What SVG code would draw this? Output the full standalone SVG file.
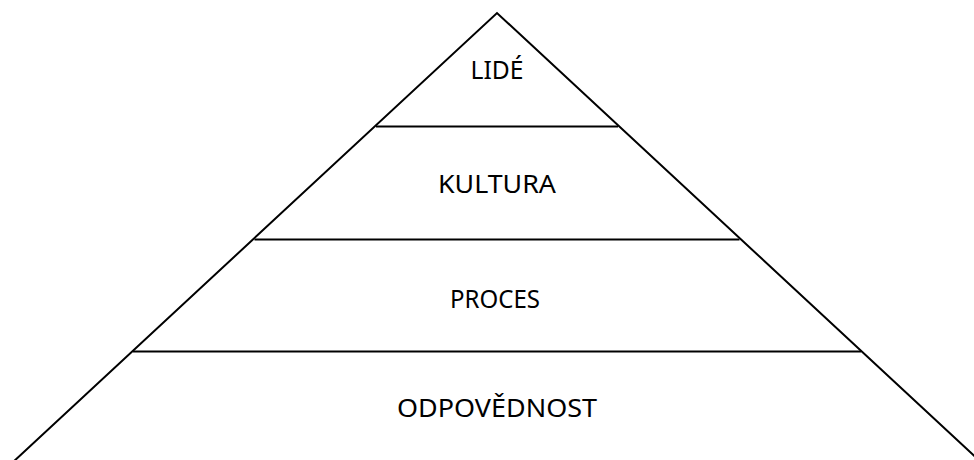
<svg xmlns="http://www.w3.org/2000/svg" width="974" height="460" viewBox="0 0 974 460">
  <style>
    .ln { stroke: #000; stroke-width: 2; fill: none; }
    .lbl { font-family: "Noto Sans", "Open Sans", "Liberation Sans", sans-serif; font-size: 25px; fill: #000; text-anchor: middle; }
  </style>
  <rect width="974" height="460" fill="#fff"/>
  <g id="connectors">
    <polyline class="ln" points="12,463 497,13 982,463"/>
    <line class="ln" x1="376" y1="126.5" x2="618" y2="126.5"/>
    <line class="ln" x1="254.5" y1="239.5" x2="739.5" y2="239.5"/>
    <line class="ln" x1="133" y1="351.5" x2="861" y2="351.5"/>
  </g>
  <g id="lide"><text class="lbl" x="497" y="79" textLength="53" lengthAdjust="spacingAndGlyphs">LIDÉ</text></g>
  <g id="kultura"><text class="lbl" x="497" y="193" textLength="118" lengthAdjust="spacingAndGlyphs">KULTURA</text></g>
  <g id="proces"><text class="lbl" x="495" y="308" textLength="90" lengthAdjust="spacingAndGlyphs">PROCES</text></g>
  <g id="odpovednost"><text class="lbl" x="497" y="417" textLength="200" lengthAdjust="spacingAndGlyphs">ODPOVĚDNOST</text></g>
</svg>
